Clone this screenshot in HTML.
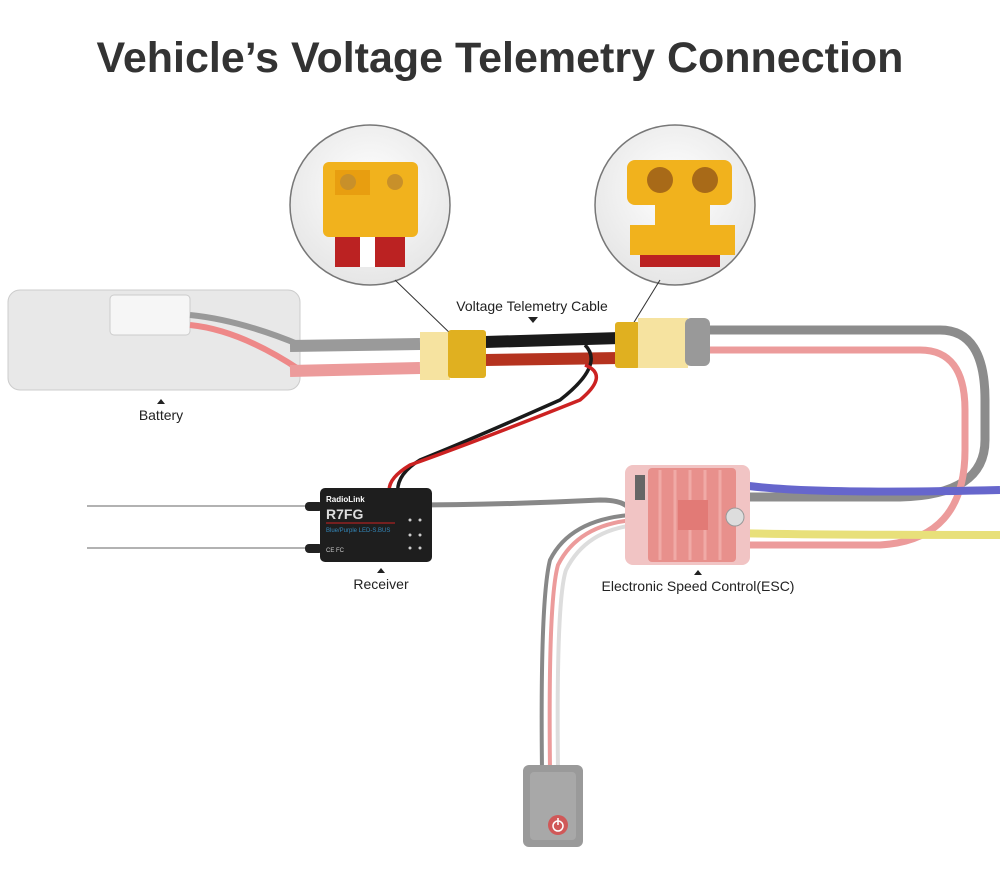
<!DOCTYPE html>
<html><head><style>
body{margin:0;background:#fff;}
svg{display:block}
text{font-family:"Liberation Sans",sans-serif;}
</style></head><body>
<svg width="1000" height="870" viewBox="0 0 1000 870">
<defs>
<radialGradient id="cg" cx="50%" cy="40%" r="60%"><stop offset="0" stop-color="#fff"/><stop offset="1" stop-color="#e6e6e6"/></radialGradient>
</defs>
<text x="500" y="72" text-anchor="middle" font-size="43" font-weight="bold" fill="#333">Vehicle’s Voltage Telemetry Connection</text>

<!-- callout circles -->
<circle cx="370" cy="205" r="80" fill="url(#cg)" stroke="#777" stroke-width="1.5"/>
<circle cx="675" cy="205" r="80" fill="url(#cg)" stroke="#777" stroke-width="1.5"/>
<rect x="323" y="162" width="95" height="75" rx="6" fill="#f1b21d"/>
<rect x="335" y="170" width="35" height="25" fill="#e89e10"/><circle cx="348" cy="182" r="8" fill="#c8902a"/><circle cx="395" cy="182" r="8" fill="#c8902a"/>
<rect x="335" y="237" width="70" height="30" fill="#b22"/><rect x="360" y="237" width="15" height="30" fill="#fff"/>
<rect x="627" y="160" width="105" height="45" rx="8" fill="#f1b21d"/>
<rect x="655" y="200" width="55" height="55" fill="#f1b21d"/>
<rect x="630" y="225" width="105" height="30" fill="#f1b21d"/>
<circle cx="660" cy="180" r="13" fill="#a86a18"/><circle cx="705" cy="180" r="13" fill="#a86a18"/>
<rect x="640" y="255" width="80" height="12" fill="#b22"/>
<line x1="395" y1="280" x2="455" y2="338" stroke="#333" stroke-width="1"/>
<line x1="660" y1="280" x2="628" y2="332" stroke="#333" stroke-width="1"/>

<!-- battery -->
<rect x="8" y="290" width="292" height="100" rx="12" fill="#e8e8e8" stroke="#ccc"/>
<rect x="110" y="295" width="80" height="40" rx="4" fill="#f6f6f6" stroke="#ccc"/>
<path d="M190 315 Q240 320 300 345" stroke="#999" stroke-width="6" fill="none"/>
<path d="M190 325 Q240 330 300 370" stroke="#e88" stroke-width="6" fill="none"/>

<!-- main wires -->
<line x1="290" y1="346" x2="420" y2="344" stroke="#9a9a9a" stroke-width="12"/>
<line x1="290" y1="371" x2="420" y2="368" stroke="#ec9b9b" stroke-width="12"/>
<line x1="485" y1="342" x2="620" y2="338" stroke="#1a1a1a" stroke-width="12"/>
<line x1="485" y1="360" x2="620" y2="358" stroke="#b5331f" stroke-width="12"/>
<path d="M705 330 H940 Q985 330 985 400 V440 Q985 495 900 497 H740" stroke="#8c8c8c" stroke-width="9" fill="none"/>
<path d="M705 350 H920 Q965 350 965 410 V450 Q965 540 880 545 H740" stroke="#ec9b9b" stroke-width="7" fill="none"/>
<path d="M735 484 Q800 495 1000 490" stroke="#6666cc" stroke-width="8" fill="none"/>
<path d="M735 533 Q800 535 1000 535" stroke="#e8e07a" stroke-width="8" fill="none"/>

<!-- connectors -->
<rect x="420" y="332" width="30" height="48" fill="#f6e3a0"/>
<rect x="448" y="330" width="38" height="48" rx="3" fill="#e0b020"/>
<rect x="615" y="322" width="25" height="46" rx="3" fill="#e0b020"/>
<rect x="638" y="318" width="50" height="50" fill="#f6e3a0"/>
<rect x="685" y="318" width="25" height="48" rx="6" fill="#999"/>

<!-- telemetry leads -->
<path d="M585 345 Q605 365 560 400 Q470 440 420 460 Q395 475 398 495" stroke="#1a1a1a" stroke-width="3.5" fill="none"/>
<path d="M585 365 Q610 375 580 400 Q480 440 410 465 Q385 480 390 495" stroke="#cc2222" stroke-width="3.5" fill="none"/>

<!-- antennas -->
<line x1="87" y1="506" x2="320" y2="506" stroke="#999" stroke-width="1.5"/>
<line x1="87" y1="548" x2="320" y2="548" stroke="#999" stroke-width="1.5"/>
<rect x="305" y="502" width="18" height="9" rx="4" fill="#222"/>
<rect x="305" y="544" width="18" height="9" rx="4" fill="#222"/>

<!-- servo wires -->
<path d="M405 505 Q500 505 600 500 Q630 500 632 515" stroke="#888" stroke-width="5" fill="none"/>
<path d="M405 511 Q500 510 600 506" stroke="#fff" stroke-width="4" fill="none"/>
<path d="M630 515 Q570 520 550 560 Q540 600 542 770" stroke="#888" stroke-width="4" fill="none"/>
<path d="M633 520 Q578 525 558 565 Q548 600 550 770" stroke="#ec9b9b" stroke-width="4" fill="none"/>
<path d="M636 525 Q586 530 566 570 Q556 600 558 770" stroke="#ddd" stroke-width="4" fill="none"/>

<!-- receiver -->
<rect x="320" y="488" width="112" height="74" rx="5" fill="#1e1e1e"/>
<text x="326" y="502" font-size="8" font-weight="bold" fill="#fff">RadioLink</text>
<text x="326" y="519" font-size="14" font-weight="bold" fill="#ddd">R7FG</text>
<line x1="326" y1="523" x2="395" y2="523" stroke="#c22" stroke-width="1"/>
<text x="326" y="532" font-size="6" fill="#38b">Blue/Purple LED-S.BUS</text>
<text x="326" y="552" font-size="6" fill="#ccc">CE FC</text>
<circle cx="410" cy="520" r="1.5" fill="#ccc"/><circle cx="420" cy="520" r="1.5" fill="#ccc"/><circle cx="410" cy="535" r="1.5" fill="#ccc"/><circle cx="420" cy="535" r="1.5" fill="#ccc"/><circle cx="410" cy="548" r="1.5" fill="#ccc"/><circle cx="420" cy="548" r="1.5" fill="#ccc"/>

<!-- ESC -->
<rect x="625" y="465" width="125" height="100" rx="8" fill="#f1c4c4"/>
<rect x="648" y="468" width="88" height="94" rx="4" fill="#e8908c"/>
<g stroke="#f0aaa6" stroke-width="3"><line x1="660" y1="470" x2="660" y2="560"/><line x1="675" y1="470" x2="675" y2="560"/><line x1="690" y1="470" x2="690" y2="560"/><line x1="705" y1="470" x2="705" y2="560"/><line x1="720" y1="470" x2="720" y2="560"/></g>
<rect x="678" y="500" width="30" height="30" fill="#e27a76"/>
<circle cx="735" cy="517" r="9" fill="#ddd" stroke="#999"/>
<rect x="635" y="475" width="10" height="25" fill="#666"/>

<!-- switch -->
<rect x="523" y="765" width="60" height="82" rx="6" fill="#9a9a9a"/>
<rect x="530" y="772" width="46" height="68" rx="4" fill="#a8a8a8"/>
<circle cx="558" cy="825" r="10" fill="#d05858"/>
<circle cx="558" cy="826" r="5" fill="none" stroke="#fff" stroke-width="1.5"/>
<line x1="558" y1="818" x2="558" y2="825" stroke="#fff" stroke-width="1.5"/>

<!-- labels -->
<polygon points="157,404 165,404 161,399" fill="#222"/>
<text x="161" y="420" font-size="14" text-anchor="middle" fill="#222">Battery</text>
<polygon points="528,317 538,317 533,323" fill="#222"/>
<text x="532" y="311" font-size="14" text-anchor="middle" fill="#222">Voltage Telemetry Cable</text>
<polygon points="377,573 385,573 381,568" fill="#222"/>
<text x="381" y="589" font-size="14" text-anchor="middle" fill="#222">Receiver</text>
<polygon points="694,575 702,575 698,570" fill="#222"/>
<text x="698" y="591" font-size="14" text-anchor="middle" fill="#222">Electronic Speed Control(ESC)</text>
</svg>
</body></html>
